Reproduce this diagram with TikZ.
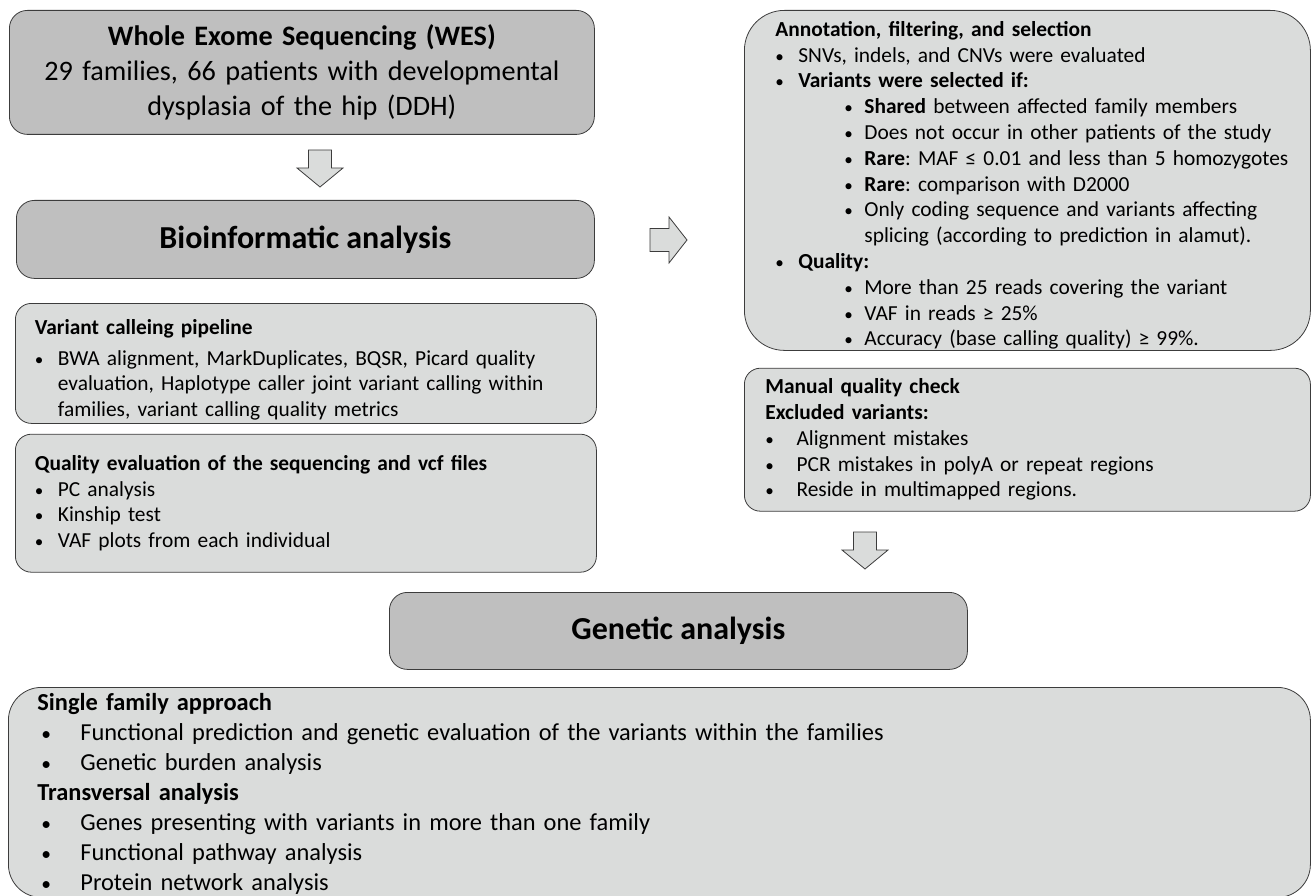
\documentclass[tikz,border=0pt]{standalone}
\usepackage{fontspec}
\setmainfont{Carlito}
\usepackage{tikz}
\usetikzlibrary{positioning}
\definecolor{BoxDark}{RGB}{191,191,191}
\definecolor{BoxLight}{RGB}{218,220,219}
\definecolor{EdgeGray}{RGB}{60,60,60}
\frenchspacing
\hyphenpenalty=10000
\newcommand{\itm}[1][23pt]{\makebox[#1][l]{\scalebox{0.8}{\textbullet}}}
\newcommand{\sitm}{\hspace*{69pt}\itm[20pt]}
\newcommand{\scont}{\hspace*{89pt}}
\newcommand{\cont}{\hspace*{23pt}}

\begin{document}
\begin{tikzpicture}[
    x=1pt, y=-1pt,
    darkbox/.style={draw=EdgeGray, fill=BoxDark, rounded corners=18pt, anchor=north west, align=center, inner sep=0pt, line width=0.8pt},
    lightbox/.style={draw=EdgeGray, fill=BoxLight, rounded corners=16pt, anchor=north west, align=left, inner ysep=0pt, line width=0.8pt, font=\fontsize{21.4}{25.8}\selectfont},
    blockarrow/.style={draw=EdgeGray, fill=BoxLight, line width=0.8pt},
    downarr/.pic={\draw[blockarrow] (-11.5,0) -- (11.5,0) -- (11.5,18) -- (23,18) -- (0,37) -- (-23,18) -- (-11.5,18) -- cycle;},
    rightarr/.pic={\draw[blockarrow] (0,-11.5) -- (19,-11.5) -- (19,-23) -- (37,0) -- (19,23) -- (19,11.5) -- (0,11.5) -- cycle;}
]
    \useasboundingbox (0,0) rectangle (1312,896);

    % left column
    \node[darkbox, minimum width=585pt, minimum height=124pt, text width=565pt, font=\fontsize{28.2}{35}\selectfont] (wes) at (9,10)
        {\textbf{Whole Exome Sequencing (WES)}\\29 families, 66 patients with developmental\\dysplasia of the hip (DDH)};
    \node[darkbox, minimum width=578pt, minimum height=78pt, font=\fontsize{32}{38}\selectfont\bfseries] (bioinf) at (16,200) {Bioinformatic analysis};
    \node[lightbox, inner xsep=19.5pt, text width=542pt, minimum height=120pt] (varcall) at (15,303)
        {\rule{0pt}{28pt}\textbf{Variant calleing pipeline}\\[5pt]
         \itm BWA alignment, MarkDuplicates, BQSR, Picard quality\\
         \cont evaluation, Haplotype caller joint variant calling within\\
         \cont families, variant calling quality metrics};
    \node[lightbox, inner xsep=19.5pt, text width=542pt, minimum height=138pt, below=10pt of varcall] (qualeval)
        {\textbf{Quality evaluation of the sequencing and vcf files}\\
         \itm PC analysis\\
         \itm Kinship test\\
         \itm VAF plots from each individual};

    % right column
    \node[lightbox, rounded corners=40pt, inner xsep=31pt, text width=504pt, minimum height=340pt] (annot) at (744,10)
        {\rule{0pt}{25pt}\textbf{Annotation, filtering, and selection}\\
         \itm SNVs, indels, and CNVs were evaluated\\
         \itm\textbf{Variants were selected if:}\\
         \sitm\textbf{Shared} between affected family members\\
         \sitm Does not occur in other patients of the study\\
         \sitm\mbox{\textbf{Rare}: MAF ≤ 0.01 and less than 5 homozygotes}\\
         \sitm\textbf{Rare}: comparison with D2000\\
         \sitm Only coding sequence and variants affecting\\
         \scont splicing (according to prediction in alamut).\\
         \itm\textbf{Quality:}\\
         \sitm More than 25 reads covering the variant\\
         \sitm VAF in reads ≥ 25\%\\
         \sitm Accuracy (base calling quality) ≥ 99\%.};
    \node[lightbox, inner xsep=21pt, text width=524pt, minimum height=143pt, below=17pt of annot] (manual)
        {\textbf{Manual quality check}\\
         \textbf{Excluded variants:}\\
         \itm[24pt] Alignment mistakes\\
         \itm[24pt] PCR mistakes in polyA or repeat regions\\
         \itm[24pt] Reside in multimapped regions.};

    % bottom
    \node[darkbox, minimum width=578pt, minimum height=77pt, font=\fontsize{32}{38}\selectfont\bfseries] (genetic) at (389,592) {Genetic analysis};
    \node[lightbox, rounded corners=33pt, inner xsep=29pt, text width=1244pt, minimum height=210pt, font=\fontsize{24.4}{30}\selectfont] (approach) at (8,687)
        {\rule{0pt}{20pt}\textbf{Single family approach}\\
         \hspace*{4pt}\itm[39pt]Functional prediction and genetic evaluation of the variants within the families\\
         \hspace*{4pt}\itm[39pt]Genetic burden analysis\\
         \textbf{Transversal analysis}\\
         \hspace*{4pt}\itm[39pt]Genes presenting with variants in more than one family\\
         \hspace*{4pt}\itm[39pt]Functional pathway analysis\\
         \hspace*{4pt}\itm[39pt]Protein network analysis};

    % block arrows
    \pic at (320,150) {downarr};
    \pic at (650,240) {rightarr};
    \pic at (865,532) {downarr};
\end{tikzpicture}
\end{document}
